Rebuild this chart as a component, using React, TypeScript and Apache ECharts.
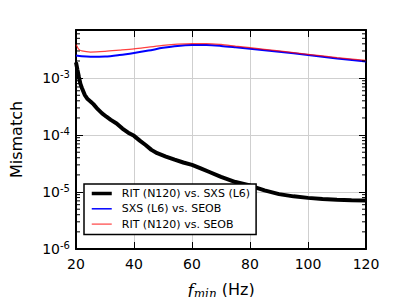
import React, { useEffect, useRef } from "react";
import * as echarts from "echarts";

const fBlack = [20, 20.5, 21, 21.5, 22, 23, 24, 25, 26, 27.5, 29, 30.5, 32, 34, 36, 38, 40, 42, 44, 46, 48, 51, 54, 57, 60, 63, 66, 70, 75, 80, 85, 90, 95, 100, 105, 110, 115, 120];
const mBlack = [1.9e-3, 1.4e-3, 1.05e-3, 8.0e-4, 6.8e-4, 5.1e-4, 4.3e-4, 3.9e-4, 3.5e-4, 2.85e-4, 2.4e-4, 2.1e-4, 1.85e-4, 1.6e-4, 1.3e-4, 1.1e-4, 9.7e-5, 8.0e-5, 6.7e-5, 5.5e-5, 4.8e-5, 4.2e-5, 3.7e-5, 3.3e-5, 3.0e-5, 2.6e-5, 2.25e-5, 1.85e-5, 1.5e-5, 1.3e-5, 1.07e-5, 9.2e-6, 8.4e-6, 7.9e-6, 7.55e-6, 7.35e-6, 7.2e-6, 7.1e-6];

const fBlue = [20, 22, 25, 30, 35, 40, 45, 50, 55, 60, 65, 70, 75, 80, 90, 100, 110, 120];
const mBlue = [2.5e-3, 2.42e-3, 2.38e-3, 2.4e-3, 2.55e-3, 2.77e-3, 3.05e-3, 3.4e-3, 3.68e-3, 3.8e-3, 3.8e-3, 3.68e-3, 3.48e-3, 3.27e-3, 2.9e-3, 2.55e-3, 2.22e-3, 1.95e-3];

const fRed = [20, 20.5, 21, 22, 25, 30, 35, 40, 45, 50, 55, 60, 65, 70, 75, 80, 90, 100, 110, 120];
const mRed = [3.9e-3, 3.5e-3, 3.2e-3, 3.0e-3, 2.87e-3, 2.95e-3, 3.1e-3, 3.27e-3, 3.5e-3, 3.75e-3, 3.95e-3, 4.05e-3, 4.05e-3, 3.9e-3, 3.65e-3, 3.42e-3, 3.0e-3, 2.62e-3, 2.3e-3, 2.05e-3];

const seriesNames = ["RIT (N120) vs. SXS (L6)", "SXS (L6) vs. SEOB", "RIT (N120) vs. SEOB"];
const xMin = 20;
const xMax = 120;
const xInterval = 20;
const yMin = 1e-6;
const yMax = 7e-3;

const minorTicks: number[] = [];
for (let e = -6; e <= -3; e++) {
  for (let k = 2; k <= 9; k++) {
    const v = k * Math.pow(10, e);
    if (v < yMax) minorTicks.push(v);
  }
}

const FONT = "DejaVu Sans";

export default function App() {
  const ref = useRef<HTMLDivElement>(null);
  useEffect(() => {
    if (!ref.current) return;
    const chart = echarts.init(ref.current, null, { renderer: "svg" });
    const pair = (xs: number[], ys: number[]) => xs.map((x, i) => [x, ys[i]]);
    const yLabelFmt = (v: number) => {
      const e = Math.round(Math.log10(v));
      return `{b|10}{s|${e}}`;
    };
    chart.setOption({
      animation: false,
      backgroundColor: "#fff",
      grid: { left: 73, right: 41, top: 30, bottom: 56, containLabel: false },
      legend: {
        data: [
          { name: seriesNames[0], lineStyle: { width: 3.5 } },
          { name: seriesNames[1], lineStyle: { width: 1.5 } },
          { name: seriesNames[2], lineStyle: { width: 1.2 } },
        ],
        orient: "vertical",
        left: 84,
        top: 184,
        padding: [4, 6, 5, 6],
        itemGap: 4.3,
        itemWidth: 20,
        itemHeight: 12,
        itemStyle: { opacity: 0 },
        borderColor: "#000",
        borderWidth: 1.5,
        borderRadius: 0,
        backgroundColor: "#fff",
        textStyle: { fontFamily: FONT, fontSize: 11, color: "#000", padding: [0, 0, 0, 5] },
      },
      xAxis: [
        {
          type: "value",
          min: xMin,
          max: xMax,
          interval: xInterval,
          name: "{i|f}{sub|min}{n| (Hz)}",
          nameLocation: "middle",
          nameGap: 30,
          nameTextStyle: {
            rich: {
              i: { fontFamily: "DejaVu Serif", fontStyle: "italic", fontSize: 17, color: "#000" },
              sub: { fontFamily: "DejaVu Serif", fontStyle: "italic", fontSize: 12, color: "#000", padding: [9, 0, 0, 0] },
              n: { fontFamily: FONT, fontSize: 16, color: "#000" },
            },
          },
          axisLine: { show: true, onZero: false, lineStyle: { color: "#000", width: 2 } },
          axisTick: { show: true, inside: true, length: 7, lineStyle: { color: "#000", width: 1 } },
          axisLabel: { fontFamily: FONT, fontSize: 14, color: "#000", margin: 8 },
          splitLine: { show: true, lineStyle: { color: "#cfcfcf", width: 1 } },
        },
        {
          type: "value",
          position: "top",
          min: xMin,
          max: xMax,
          interval: xInterval,
          axisLine: { show: true, onZero: false, lineStyle: { color: "#000", width: 2 } },
          axisTick: { show: true, inside: true, length: 7, lineStyle: { color: "#000", width: 1 } },
          axisLabel: { show: false },
          splitLine: { show: false },
        },
      ],
      yAxis: [
        {
          type: "log",
          min: yMin,
          max: yMax,
          logBase: 10,
          name: "Mismatch",
          nameLocation: "middle",
          nameGap: 52,
          nameTextStyle: { fontFamily: FONT, fontSize: 16, color: "#000" },
          axisLine: { show: true, onZero: false, lineStyle: { color: "#000", width: 2 } },
          axisTick: { show: true, inside: true, length: 7, lineStyle: { color: "#000", width: 1 } },
          axisLabel: {
            fontFamily: FONT,
            color: "#000",
            margin: 6,
            showMaxLabel: false,
            formatter: yLabelFmt,
            rich: {
              b: { fontFamily: FONT, fontSize: 14, color: "#000" },
              s: { fontFamily: FONT, fontSize: 10, color: "#000", padding: [0, 0, 8, 0] },
            },
          },
          splitLine: { show: true, lineStyle: { color: "#cfcfcf", width: 1 } },
        },
        {
          type: "log",
          position: "right",
          min: yMin,
          max: yMax,
          logBase: 10,
          axisLine: { show: true, onZero: false, lineStyle: { color: "#000", width: 2 } },
          axisTick: { show: true, inside: true, length: 7, lineStyle: { color: "#000", width: 1 } },
          axisLabel: { show: false },
          splitLine: { show: false },
        },
      ],
      series: [
        {
          name: seriesNames[0],
          type: "line",
          symbol: "none",
          data: pair(fBlack, mBlack),
          lineStyle: { color: "#000", width: 4 },
          itemStyle: { color: "#000" },
          z: 3,
        },
        {
          name: seriesNames[1],
          type: "line",
          symbol: "none",
          smooth: 0.3,
          data: pair(fBlue, mBlue),
          lineStyle: { color: "#0000ff", width: 2 },
          itemStyle: { color: "#0000ff" },
          z: 4,
        },
        {
          name: seriesNames[2],
          type: "line",
          symbol: "none",
          smooth: 0.3,
          data: pair(fRed, mRed),
          lineStyle: { color: "rgba(255,0,0,0.75)", width: 1.2 },
          itemStyle: { color: "rgba(255,0,0,0.6)" },
          z: 5,
        },
        {
          type: "custom",
          silent: true,
          z: 6,
          clip: false,
          data: minorTicks.map((v) => [xMin, v]),
          renderItem: (params: any, api: any) => {
            const y = api.coord([xMin, api.value(1)])[1];
            const cs = params.coordSys;
            const x0 = cs.x;
            const x1 = cs.x + cs.width;
            const st = { stroke: "#000", lineWidth: 1 };
            return {
              type: "group",
              children: [
                { type: "line", shape: { x1: x0, y1: y, x2: x0 + 4, y2: y }, style: st },
                { type: "line", shape: { x1: x1 - 4, y1: y, x2: x1, y2: y }, style: st },
              ],
            };
          },
        },
      ],
    });
    return () => chart.dispose();
  }, []);
  return <div ref={ref} style={{ width: 407, height: 305, margin: -8 }} />;
}
